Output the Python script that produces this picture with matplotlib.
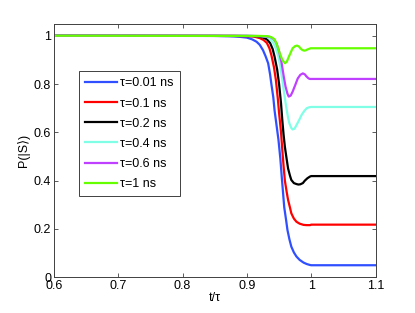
import matplotlib
matplotlib.use("Agg")
import matplotlib.pyplot as plt

plt.rcParams["font.family"] = ["Liberation Sans", "DejaVu Sans"]

# values, P(|S>) vs t/tau
t_001 = [0.60, 0.85, 0.87, 0.88, 0.89, 0.90, 0.908, 0.915, 0.920, 0.925, 0.929, 0.933,
         0.936, 0.938, 0.941, 0.943, 0.946, 0.949, 0.952, 0.954, 0.956, 0.958, 0.961,
         0.963, 0.966, 0.969, 0.973, 0.977, 0.982, 0.988, 0.993, 0.998, 1.00, 1.10]
p_001 = [1.00, 0.999, 0.998, 0.997, 0.995, 0.992, 0.985, 0.975, 0.962, 0.94, 0.915, 0.886,
         0.84, 0.80, 0.745, 0.69, 0.63, 0.57, 0.49, 0.42, 0.355, 0.29, 0.235,
         0.196, 0.158, 0.127, 0.103, 0.086, 0.072, 0.061, 0.055, 0.051, 0.05, 0.05]

t_01 = [0.60, 0.88, 0.90, 0.91, 0.920, 0.926, 0.931, 0.935, 0.938, 0.942, 0.945, 0.948,
        0.950, 0.953, 0.955, 0.957, 0.959, 0.962, 0.964, 0.967, 0.969, 0.973, 0.977,
        0.982, 0.988, 0.993, 0.998, 1.00, 1.10]
p_01 = [1.00, 0.999, 0.998, 0.997, 0.99, 0.982, 0.97, 0.948, 0.92, 0.87, 0.817, 0.74,
        0.68, 0.60, 0.527, 0.46, 0.40, 0.35, 0.32, 0.288, 0.265, 0.243, 0.23,
        0.222, 0.217, 0.216, 0.216, 0.218, 0.218]

t_02 = [0.60, 0.90, 0.915, 0.925, 0.931, 0.936, 0.940, 0.943, 0.947, 0.950, 0.953,
        0.955, 0.957, 0.959, 0.962, 0.964, 0.967, 0.969, 0.973, 0.977, 0.980, 0.983,
        0.987, 0.990, 0.994, 0.998, 1.00, 1.10]
p_02 = [1.00, 0.999, 0.998, 0.993, 0.985, 0.97, 0.945, 0.913, 0.86, 0.80, 0.72,
        0.65, 0.59, 0.54, 0.485, 0.45, 0.42, 0.403, 0.39, 0.386, 0.384, 0.385,
        0.39, 0.40, 0.41, 0.417, 0.419, 0.419]

t_04 = [0.60, 0.91, 0.922, 0.931, 0.936, 0.941, 0.945, 0.949, 0.952, 0.955, 0.958,
        0.961, 0.964, 0.966, 0.969, 0.971, 0.974, 0.977, 0.981, 0.985, 0.989, 0.993,
        0.997, 1.00, 1.10]
p_04 = [1.00, 0.999, 0.998, 0.995, 0.987, 0.97, 0.947, 0.913, 0.87, 0.817, 0.76,
        0.706, 0.66, 0.637, 0.618, 0.612, 0.615, 0.63, 0.65, 0.672, 0.688, 0.70,
        0.704, 0.705, 0.705]

t_06 = [0.60, 0.91, 0.925, 0.936, 0.942, 0.946, 0.950, 0.954, 0.957, 0.960, 0.963,
        0.965, 0.968, 0.971, 0.975, 0.979, 0.983, 0.987, 0.990, 0.993, 0.996, 0.998,
        1.00, 1.10]
p_06 = [1.00, 0.999, 0.998, 0.995, 0.985, 0.968, 0.935, 0.886, 0.835, 0.79, 0.76,
        0.748, 0.752, 0.768, 0.795, 0.823, 0.838, 0.844, 0.84, 0.83, 0.823, 0.821,
        0.821, 0.821]

t_1 = [0.60, 0.92, 0.932, 0.938, 0.943, 0.947, 0.951, 0.955, 0.959, 0.962, 0.964,
       0.968, 0.971, 0.975, 0.978, 0.981, 0.983, 0.986, 0.989, 0.992, 0.994, 0.997,
       0.999, 1.10]
p_1 = [1.00, 0.999, 0.998, 0.994, 0.985, 0.96, 0.927, 0.9, 0.886, 0.892, 0.906,
       0.93, 0.948, 0.957, 0.959, 0.955, 0.948, 0.941, 0.938, 0.94, 0.943, 0.946,
       0.948, 0.948]

series = [
    (t_001, p_001, "#3050ff", "τ=0.01 ns"),
    (t_01, p_01, "#ff0000", "τ=0.1 ns"),
    (t_02, p_02, "#000000", "τ=0.2 ns"),
    (t_04, p_04, "#80ffe6", "τ=0.4 ns"),
    (t_06, p_06, "#bf40ff", "τ=0.6 ns"),
    (t_1, p_1, "#66ff00", "τ=1 ns"),
]

fig = plt.figure(figsize=(4.15, 3.13), dpi=100)
ax = fig.add_axes([0.130, 0.114, 0.775, 0.809])

for t, p, c, lab in series:
    ax.plot(t, p, color=c, lw=1.6, label=lab, solid_joinstyle="round")

ax.set_xlim(0.6, 1.1)
ax.set_ylim(0, 1.048)
ax.set_xticks([0.6, 0.7, 0.8, 0.9, 1.0, 1.1])
ax.set_xticklabels(["0.6", "0.7", "0.8", "0.9", "1", "1.1"])
ax.set_yticks([0, 0.2, 0.4, 0.6, 0.8, 1.0])
ax.set_yticklabels(["0", "0.2", "0.4", "0.6", "0.8", "1"])
ax.tick_params(direction="in", top=True, right=True, labelsize=9,
               length=3, width=0.6, color="#404040", pad=2)
for s in ax.spines.values():
    s.set_color("#404040")
    s.set_linewidth(0.7)

ax.set_xlabel("t/τ", fontsize=9, labelpad=0)
ax.set_ylabel("P(|S⟩)", fontsize=9, labelpad=3)

leg = ax.legend(loc="upper left", bbox_to_anchor=(0.078, 0.814), borderaxespad=0,
                fontsize=9, fancybox=False, edgecolor="#404040", framealpha=1,
                handlelength=2.5, handletextpad=0.3, labelspacing=0.65,
                borderpad=0.5)
leg.get_frame().set_linewidth(0.7)

fig.savefig("out.png", dpi=100)
